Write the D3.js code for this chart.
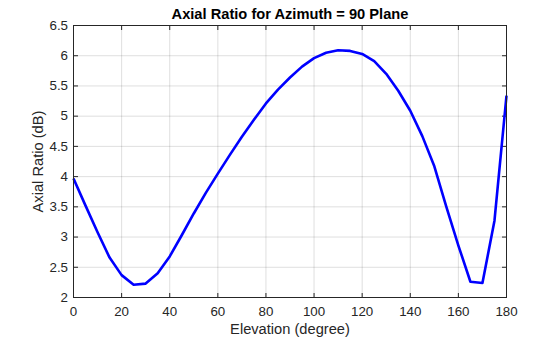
<!DOCTYPE html>
<html>
<head>
<meta charset="utf-8">
<script src="https://cdn.jsdelivr.net/npm/d3@7"></script>
<style>
  html, body { margin: 0; padding: 0; background: #fff; }
  svg { display: block; }
  text { font-family: "Liberation Sans", Arial, Helvetica, sans-serif; }
</style>
</head>
<body>
<div id="chart"></div>
<script>
// ---- data ----
const elevation = [0,5,10,15,20,25,30,35,40,45,50,55,60,65,70,75,80,85,90,95,100,105,110,115,120,125,130,135,140,145,150,155,160,165,170,175,180];
const axialRatio = [3.97,3.52,3.08,2.66,2.37,2.21,2.23,2.40,2.68,3.03,3.39,3.73,4.05,4.36,4.66,4.94,5.21,5.44,5.64,5.82,5.96,6.05,6.09,6.08,6.03,5.91,5.70,5.42,5.09,4.67,4.17,3.50,2.86,2.26,2.24,3.27,5.34];
const xTicks = [0,20,40,60,80,100,120,140,160,180];
const yTicks = [2,2.5,3,3.5,4,4.5,5,5.5,6,6.5];
const yTickLabels = ["2","2.5","3","3.5","4","4.5","5","5.5","6","6.5"];
const titleText = "Axial Ratio for Azimuth = 90 Plane";
const xLabelText = "Elevation (degree)";
const yLabelText = "Axial Ratio (dB)";

// ---- layout ----
const W = 560, H = 337;
const L = 73.5, R = 506.5, T = 25.5, B = 297.5;
const axisColor = "#262626";

const svg = d3.select("#chart").append("svg").attr("width", W).attr("height", H);

const x = d3.scaleLinear().domain([0, 180]).range([L, R]);
const y = d3.scaleLinear().domain([2, 6.5]).range([B, T]);

// grid
const grid = svg.append("g").attr("stroke", "rgba(38,38,38,0.15)").attr("stroke-width", 1);
grid.selectAll("line.gx").data(xTicks).join("line")
  .attr("x1", d => x(d)).attr("x2", d => x(d)).attr("y1", T).attr("y2", B);
grid.selectAll("line.gy").data(yTicks).join("line")
  .attr("x1", L).attr("x2", R).attr("y1", d => y(d)).attr("y2", d => y(d));

// axes
const fontTick = 13.33;
const xAxis = d3.axisBottom(x).tickValues(xTicks).tickSize(-4.5).tickPadding(9).offset(0);
const yAxis = d3.axisLeft(y).tickValues(yTicks).tickSize(-4.5).tickPadding(5.5).offset(0)
  .tickFormat((d, i) => yTickLabels[i]);
const xAxisTop = d3.axisTop(x).tickValues(xTicks).tickSize(-4.5).tickFormat("").offset(0);
const yAxisRight = d3.axisRight(y).tickValues(yTicks).tickSize(-4.5).tickFormat("").offset(0);

function style(g) {
  g.select(".domain").remove();
  g.selectAll(".tick line").attr("stroke", axisColor);
  g.selectAll(".tick text").attr("fill", axisColor)
    .style("font-size", fontTick + "px")
    .style("font-family", '"Liberation Sans", Arial, Helvetica, sans-serif');
  g.attr("font-family", null).attr("font-size", null);
}
svg.append("g").attr("transform", `translate(0,${B})`).call(xAxis).call(style);
svg.append("g").attr("transform", `translate(${L},0)`).call(yAxis).call(style);
svg.append("g").attr("transform", `translate(0,${T})`).call(xAxisTop).call(style);
svg.append("g").attr("transform", `translate(${R},0)`).call(yAxisRight).call(style);

// data line
const line = d3.line().x((d, i) => x(elevation[i])).y(d => y(d));
svg.append("path").datum(axialRatio)
  .attr("d", line)
  .attr("fill", "none")
  .attr("stroke", "#0000ff")
  .attr("stroke-width", 2.6)
  .attr("stroke-linejoin", "round");

// box
svg.append("rect").attr("x", L).attr("y", T).attr("width", R - L).attr("height", B - T)
  .attr("fill", "none").attr("stroke", axisColor).attr("stroke-width", 1);

// labels
svg.append("text").attr("x", (L + R) / 2).attr("y", 19)
  .attr("text-anchor", "middle").attr("font-weight", "bold")
  .style("font-size", "14.67px").attr("fill", "#000").text(titleText);
svg.append("text").attr("x", (L + R) / 2).attr("y", 333.5)
  .attr("text-anchor", "middle").style("font-size", "14.67px").attr("fill", axisColor).text(xLabelText);
svg.append("text").attr("transform", `translate(43,${(T + B) / 2}) rotate(-90)`)
  .attr("text-anchor", "middle").style("font-size", "14.67px").attr("fill", axisColor).text(yLabelText);
</script>
</body>
</html>
